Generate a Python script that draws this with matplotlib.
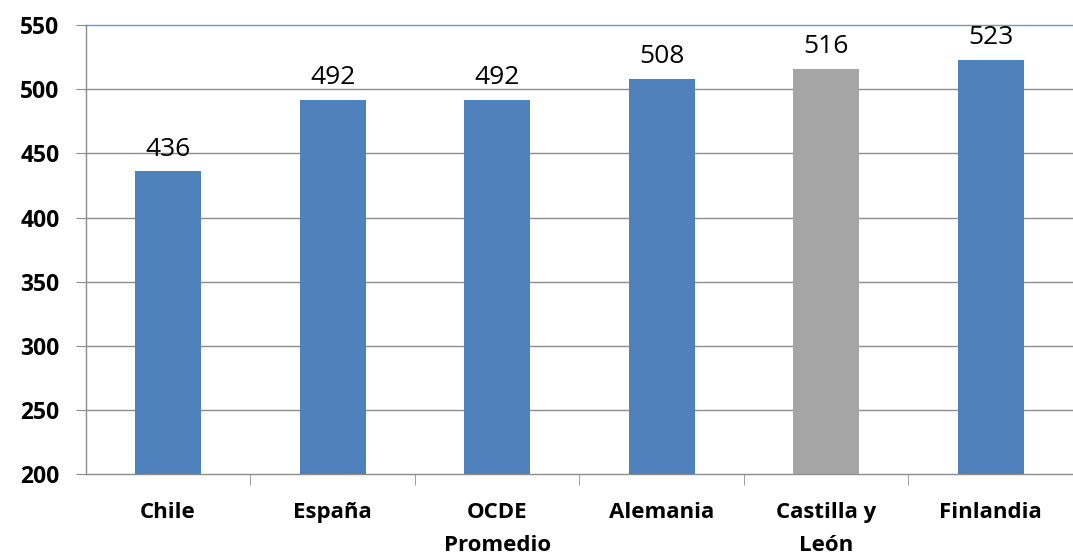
import matplotlib.pyplot as plt
import numpy as np

categories = ['Chile', 'España', 'OCDE\nPromedio', 'Alemania', 'Castilla y\nLeón', 'Finlandia']
scores = [436, 492, 492, 508, 516, 523]
highlight = 'Castilla y\nLeón'

blue = '#4F81BD'
grey = '#A5A5A5'
axis_grey = '#8C8C8C'

plt.rcParams['font.family'] = ['Open Sans', 'DejaVu Sans']

fig = plt.figure(figsize=(10.73, 5.59), dpi=100)
ax = fig.add_axes([0.080, 0.152, 0.920, 0.803])

x = np.arange(len(categories))
colors = [grey if c == highlight else blue for c in categories]
bars = ax.bar(x, scores, width=0.40, color=colors, zorder=3, bottom=0)

for xi, v in zip(x, scores):
    ax.annotate(str(v), (xi, v), xytext=(0, 7), textcoords='offset points',
                ha='center', va='bottom', fontsize=19, color='black', zorder=4)

ax.set_ylim(200, 550)
ax.set_xlim(-0.5, len(categories) - 0.5)
ax.set_yticks(np.arange(200, 551, 50))

# gridlines, the top one in blue like the chart border
for yv in np.arange(250, 551, 50):
    ax.axhline(yv, color='#6E95C4' if yv == 550 else axis_grey,
               lw=1.0, zorder=1, clip_on=False)

for side in ['top', 'right']:
    ax.spines[side].set_visible(False)
for side in ['left', 'bottom']:
    ax.spines[side].set_color(axis_grey)
    ax.spines[side].set_linewidth(1.0)

ax.tick_params(axis='y', length=7, color=axis_grey, pad=12, labelsize=16.5)
for lbl in ax.get_yticklabels():
    lbl.set_fontweight('bold')

# category labels centered, tick marks between categories
ax.set_xticks(x)
ax.set_xticklabels(categories, fontsize=16, fontweight='bold', linespacing=1.75)
ax.tick_params(axis='x', length=0, pad=20)
ax.set_xticks(np.arange(0.5, len(categories) - 0.5, 1), minor=True)
ax.tick_params(axis='x', which='minor', length=8, color=axis_grey, direction='out')

fig.savefig('out.png', dpi=100, facecolor='white')
